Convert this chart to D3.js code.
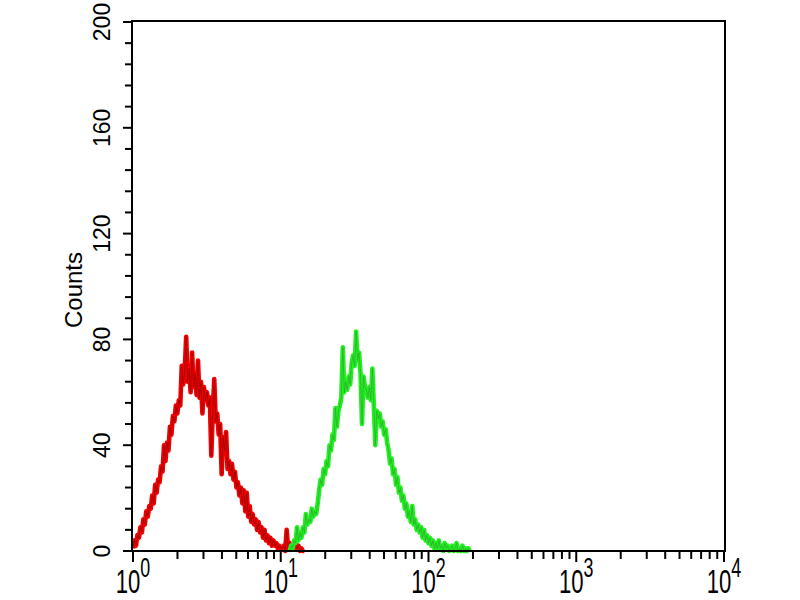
<!DOCTYPE html>
<html>
<head>
<meta charset="utf-8">
<script src="https://cdn.jsdelivr.net/npm/d3@7/dist/d3.min.js"></script>
<style>
  html, body { margin: 0; padding: 0; background: #fff; }
  svg { display: block; }
  text { font-family: "Liberation Sans", Arial, sans-serif; fill: #000; }
</style>
</head>
<body>
<svg id="chart" width="800" height="600"></svg>
<script>
// ---- data (histogram counts on log10 channel bins) ----
const binStep = 0.01; // log10 units per bin
const redStartLog = 0.00;
const redCounts = [
  1,4,2,6,5,9,7,12,10,15,13,17,16,21,18,25,22,27,26,32,
  30,40,34,41,38,47,44,51,49,55,52,57,55,70,63,68,81,64,69,60,
  75,62,67,59,72,58,64,52,62,57,60,55,58,36,53,65,49,52,44,48,
  29,43,38,45,31,34,29,33,27,30,24,26,21,24,18,23,15,22,13,17,
  11,14,10,12,8,11,7,9,5,8,4,6,3,5,2,4,2,3,1,2,
  1,1,2,0,8,1,3,1,2,1,3,1,2,0,1,0,0
];
const greenStartLog = 1.06;
const greenCounts = [
  0,2,1,4,3,9,4,7,5,9,7,14,10,12,11,16,13,15,14,18,
  23,27,25,31,29,34,32,40,38,44,42,54,47,53,55,58,77,60,64,61,
  66,63,71,74,70,83,72,75,67,48,66,62,61,58,62,57,69,55,40,53,
  50,52,47,49,44,46,41,38,33,35,29,31,25,28,22,24,19,21,16,18,
  13,15,11,17,10,12,8,10,7,9,5,8,4,6,3,5,2,4,1,3,
  1,4,1,2,0,3,1,2,0,1,2,0,1,3,0,1,0,2,0,1,0,1,0
];
const yTicksMajor = [0, 40, 80, 120, 160, 200];
const yTicksMinorStep = 8;
const xDecades = [0, 1, 2, 3, 4];
const yLabel = "Counts";

// ---- layout ----
const svg = d3.select("#chart");
const mLeft = 133, mRight = 724, mTop = 22, mBottom = 551;

const x = d3.scaleLog().domain([1, 10000]).range([mLeft, mRight]);
const y = d3.scaleLinear().domain([0, 200]).range([mBottom, mTop]);

// curves
function drawCurve(counts, startLog, bright, dark) {
  const pts = counts.map((v, i) => [Math.pow(10, startLog + i * binStep), v]);
  const line = d3.line().x(d => x(d[0])).y(d => y(d[1]));
  svg.append("path").attr("d", line(pts))
    .attr("fill", "none").attr("stroke", bright)
    .attr("stroke-width", 4.6).attr("stroke-linejoin", "round");
  svg.append("path").attr("d", line(pts))
    .attr("fill", "none").attr("stroke", dark)
    .attr("stroke-width", 1).attr("opacity", 0.5);
}
drawCurve(redCounts, redStartLog, "#f00000", "#700000");
drawCurve(greenCounts, greenStartLog, "#20f020", "#3a8a3a");

// frame
svg.append("rect")
  .attr("x", mLeft - 1).attr("y", mTop - 1)
  .attr("width", mRight - mLeft + 2).attr("height", mBottom - mTop + 1)
  .attr("fill", "none").attr("stroke", "#000").attr("stroke-width", 2);

// y axis ticks
const yMinor = d3.range(0, 201, yTicksMinorStep);
svg.append("g").selectAll("line").data(yMinor).join("line")
  .attr("x1", d => yTicksMajor.includes(d) ? mLeft - 10 : mLeft - 8)
  .attr("x2", mLeft - 1)
  .attr("y1", d => y(d)).attr("y2", d => y(d))
  .attr("stroke", "#000").attr("stroke-width", 2);

svg.append("g").selectAll("text").data(yTicksMajor).join("text")
  .attr("transform", d => `translate(110,${y(d)}) rotate(-90)`)
  .attr("text-anchor", "middle")
  .attr("font-size", 23)
  .text(d => d);

svg.append("text")
  .attr("transform", `translate(82,290) rotate(-90)`)
  .attr("text-anchor", "middle")
  .attr("font-size", 24)
  .text(yLabel);

// x axis ticks
const xMinor = [];
xDecades.slice(0, -1).forEach(e => {
  for (let m = 2; m <= 9; m++) xMinor.push(m * Math.pow(10, e));
});
const xMajor = xDecades.map(e => Math.pow(10, e));
svg.append("g").selectAll("line").data(xMinor).join("line")
  .attr("x1", d => x(d)).attr("x2", d => x(d))
  .attr("y1", mBottom).attr("y2", mBottom + 8)
  .attr("stroke", "#000").attr("stroke-width", 2);
svg.append("g").selectAll("line").data(xMajor).join("line")
  .attr("x1", d => x(d)).attr("x2", d => x(d))
  .attr("y1", mBottom).attr("y2", mBottom + 11)
  .attr("stroke", "#000").attr("stroke-width", 2);

const xl = svg.append("g").selectAll("text").data(xDecades).join("text")
  .attr("transform", d => `translate(${x(Math.pow(10, d))},593) scale(0.85,1.3)`)
  .attr("text-anchor", "middle")
  .attr("font-size", 26);
xl.append("tspan").text("10");
xl.append("tspan").attr("dy", -12).attr("font-size", 21).text(d => d);
</script>
</body>
</html>
